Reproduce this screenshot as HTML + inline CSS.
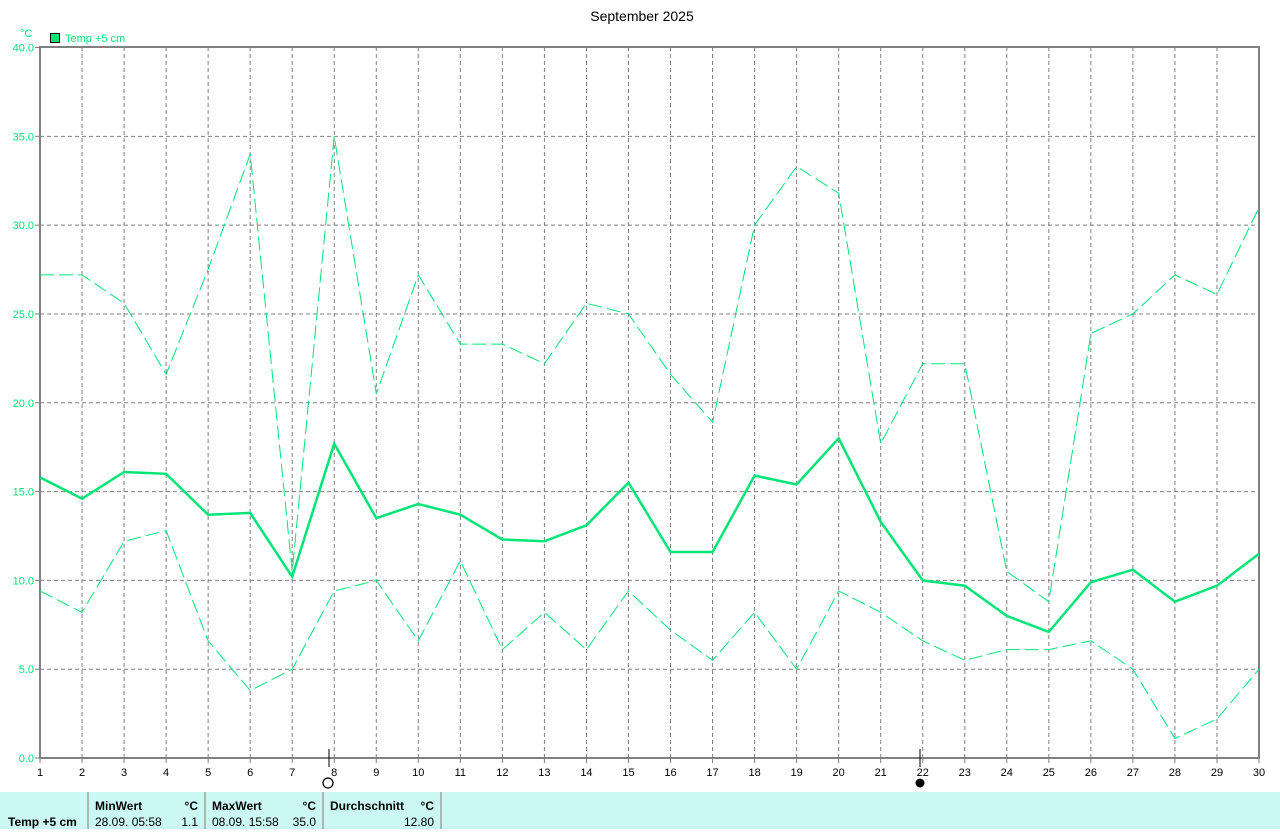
<!DOCTYPE html>
<html><head><meta charset="utf-8"><style>
body{margin:0;background:#fff;width:1280px;height:829px;overflow:hidden;font-family:"Liberation Sans",sans-serif}
svg text{font-family:"Liberation Sans",sans-serif}
</style></head><body>
<svg id="s" width="1280" height="829" xmlns="http://www.w3.org/2000/svg">
<text x="642" y="21" font-size="14" text-anchor="middle" fill="#000">September 2025</text>
<text x="20" y="37" font-size="11" fill="#00e676">°C</text>
<rect x="50.5" y="33.5" width="9" height="9" fill="#00e676" stroke="#000"/>
<text x="65" y="42" font-size="11" fill="#00e676">Temp +5 cm</text>
<g id="grid"></g>
<rect x="40" y="47" width="1219" height="711" fill="none" stroke="#808080" stroke-width="2"/>
<g id="data"></g>
<line x1="329" y1="749" x2="329" y2="767" stroke="#000"/>
<circle cx="328" cy="783" r="5" fill="none" stroke="#000" stroke-width="1.3"/>
<line x1="920" y1="749" x2="920" y2="767" stroke="#000"/>
<circle cx="920" cy="783" r="4.5" fill="#000"/>
<rect x="0" y="792" width="1280" height="37" fill="#ccf8f4"/>
<g stroke="#a0a0a0" stroke-width="1.5"><line x1="88" y1="792" x2="88" y2="829"/><line x1="205" y1="792" x2="205" y2="829"/><line x1="323" y1="792" x2="323" y2="829"/><line x1="441" y1="792" x2="441" y2="829"/></g>
<g font-size="12" fill="#000">
<text x="8" y="826" font-weight="bold">Temp +5 cm</text>
<text x="95" y="810" font-weight="bold">MinWert</text><text x="198" y="810" text-anchor="end" font-weight="bold">°C</text>
<text x="95" y="826">28.09.  05:58</text><text x="198" y="826" text-anchor="end">1.1</text>
<text x="212" y="810" font-weight="bold">MaxWert</text><text x="316" y="810" text-anchor="end" font-weight="bold">°C</text>
<text x="212" y="826">08.09.  15:58</text><text x="316" y="826" text-anchor="end">35.0</text>
<text x="330" y="810" font-weight="bold">Durchschnitt</text><text x="434" y="810" text-anchor="end" font-weight="bold">°C</text>
<text x="434" y="826" text-anchor="end">12.80</text>
</g>
</svg>
<script>
var NS="http://www.w3.org/2000/svg";
function X(d){return 40+(d-1)*1219/29}
function Y(v){return 758-v*710.5/40}
var g=document.getElementById('grid'),h='';
for(var d=1;d<=30;d++){var x=X(d);
 if(d>1&&d<30)h+='<line x1="'+x+'" y1="47" x2="'+x+'" y2="758" stroke="#808080" stroke-dasharray="4,3"/>';
 h+='<line x1="'+x+'" y1="758" x2="'+x+'" y2="763" stroke="#808080"/>';
 h+='<text x="'+x+'" y="776" font-size="11" text-anchor="middle">'+d+'</text>';}
for(var v=0;v<=40;v+=5){var y=Y(v);
 if(v>0&&v<40)h+='<line x1="40" y1="'+y+'" x2="1259" y2="'+y+'" stroke="#808080" stroke-dasharray="4,3"/>';
 h+='<line x1="35" y1="'+y+'" x2="40" y2="'+y+'" stroke="#808080"/>';
 h+='<text x="34" y="'+(y+4)+'" font-size="11" text-anchor="end" fill="#00e676">'+v.toFixed(1)+'</text>';}
g.innerHTML=h;
var mean=[15.8,14.6,16.1,16.0,13.7,13.8,10.2,17.7,13.5,14.3,13.7,12.3,12.2,13.1,15.5,11.6,11.6,15.9,15.4,18.0,13.3,10.0,9.7,8.0,7.1,9.9,10.6,8.8,9.7,11.5];
var mx=[27.2,27.2,25.6,21.6,27.5,34.0,10.5,35.0,20.5,27.2,23.3,23.3,22.2,25.6,25.0,21.6,18.9,30.0,33.3,31.8,17.7,22.2,22.2,10.5,8.8,23.9,25.0,27.2,26.1,31.0];
var mn=[9.4,8.2,12.2,12.8,6.6,3.8,5.0,9.4,10.0,6.6,11.1,6.1,8.2,6.1,9.4,7.2,5.5,8.2,5.0,9.4,8.2,6.6,5.5,6.1,6.1,6.6,5.0,1.1,2.2,5.0];
function pts(a){return a.map(function(v,i){return X(i+1).toFixed(1)+','+Y(v).toFixed(1)}).join(' ')}
document.getElementById('data').innerHTML=
'<polyline points="'+pts(mx)+'" fill="none" stroke="#00e676" stroke-dasharray="14,5"/>'+
'<polyline points="'+pts(mn)+'" fill="none" stroke="#00e676" stroke-dasharray="14,5"/>'+
'<polyline points="'+pts(mean)+'" fill="none" stroke="#00e676" stroke-width="2.5"/>';
</script>
</body></html>
